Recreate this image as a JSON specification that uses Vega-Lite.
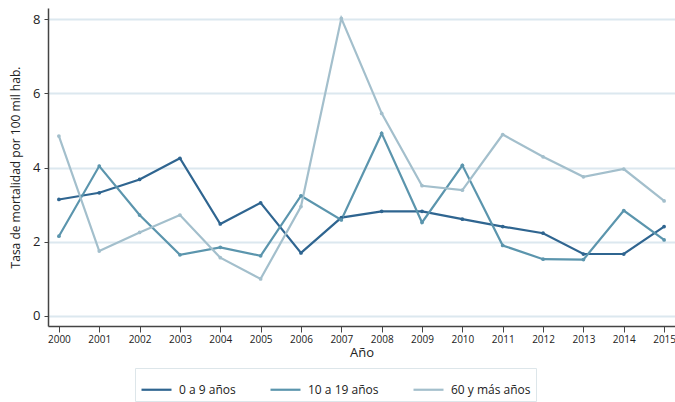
{
  "$schema": "https://vega.github.io/schema/vega-lite/v6.json",
  "width": 627,
  "height": 318,
  "autosize": "none",
  "padding": {"left": 48, "top": 8, "right": 0, "bottom": 76},
  "background": "white",
  "config": {
    "font": "Open Sans",
    "view": {"stroke": null}
  },
  "data": {
    "values": [
      {"year": 2000, "grupo": "0 a 9 años", "tasa": 3.14},
      {"year": 2001, "grupo": "0 a 9 años", "tasa": 3.32},
      {"year": 2002, "grupo": "0 a 9 años", "tasa": 3.68},
      {"year": 2003, "grupo": "0 a 9 años", "tasa": 4.25},
      {"year": 2004, "grupo": "0 a 9 años", "tasa": 2.48},
      {"year": 2005, "grupo": "0 a 9 años", "tasa": 3.05},
      {"year": 2006, "grupo": "0 a 9 años", "tasa": 1.7},
      {"year": 2007, "grupo": "0 a 9 años", "tasa": 2.65},
      {"year": 2008, "grupo": "0 a 9 años", "tasa": 2.82},
      {"year": 2009, "grupo": "0 a 9 años", "tasa": 2.82},
      {"year": 2010, "grupo": "0 a 9 años", "tasa": 2.61},
      {"year": 2011, "grupo": "0 a 9 años", "tasa": 2.41},
      {"year": 2012, "grupo": "0 a 9 años", "tasa": 2.23},
      {"year": 2013, "grupo": "0 a 9 años", "tasa": 1.67},
      {"year": 2014, "grupo": "0 a 9 años", "tasa": 1.67},
      {"year": 2015, "grupo": "0 a 9 años", "tasa": 2.41},
      {"year": 2000, "grupo": "10 a 19 años", "tasa": 2.15},
      {"year": 2001, "grupo": "10 a 19 años", "tasa": 4.04},
      {"year": 2002, "grupo": "10 a 19 años", "tasa": 2.72},
      {"year": 2003, "grupo": "10 a 19 años", "tasa": 1.65},
      {"year": 2004, "grupo": "10 a 19 años", "tasa": 1.85},
      {"year": 2005, "grupo": "10 a 19 años", "tasa": 1.62},
      {"year": 2006, "grupo": "10 a 19 años", "tasa": 3.24},
      {"year": 2007, "grupo": "10 a 19 años", "tasa": 2.59},
      {"year": 2008, "grupo": "10 a 19 años", "tasa": 4.92},
      {"year": 2009, "grupo": "10 a 19 años", "tasa": 2.52},
      {"year": 2010, "grupo": "10 a 19 años", "tasa": 4.06},
      {"year": 2011, "grupo": "10 a 19 años", "tasa": 1.9},
      {"year": 2012, "grupo": "10 a 19 años", "tasa": 1.53},
      {"year": 2013, "grupo": "10 a 19 años", "tasa": 1.52},
      {"year": 2014, "grupo": "10 a 19 años", "tasa": 2.84},
      {"year": 2015, "grupo": "10 a 19 años", "tasa": 2.05},
      {"year": 2000, "grupo": "60 y más años", "tasa": 4.85},
      {"year": 2001, "grupo": "60 y más años", "tasa": 1.75},
      {"year": 2002, "grupo": "60 y más años", "tasa": 2.25},
      {"year": 2003, "grupo": "60 y más años", "tasa": 2.72},
      {"year": 2004, "grupo": "60 y más años", "tasa": 1.57},
      {"year": 2005, "grupo": "60 y más años", "tasa": 1.0},
      {"year": 2006, "grupo": "60 y más años", "tasa": 2.95},
      {"year": 2007, "grupo": "60 y más años", "tasa": 8.02},
      {"year": 2008, "grupo": "60 y más años", "tasa": 5.46},
      {"year": 2009, "grupo": "60 y más años", "tasa": 3.51},
      {"year": 2010, "grupo": "60 y más años", "tasa": 3.39},
      {"year": 2011, "grupo": "60 y más años", "tasa": 4.89},
      {"year": 2012, "grupo": "60 y más años", "tasa": 4.29},
      {"year": 2013, "grupo": "60 y más años", "tasa": 3.75},
      {"year": 2014, "grupo": "60 y más años", "tasa": 3.96},
      {"year": 2015, "grupo": "60 y más años", "tasa": 3.1}
    ]
  },
  "mark": {"type": "line", "strokeWidth": 2.2, "point": {"size": 14, "filled": true}},
  "encoding": {
    "x": {
      "field": "year",
      "type": "quantitative",
      "scale": {"domain": [1999.73, 2015.27], "nice": false, "zero": false},
      "axis": {
        "title": "Año",
        "titleFontSize": 13,
        "titleFontWeight": "normal",
        "titleColor": "#222",
        "titlePadding": 2,
        "values": [2000, 2001, 2002, 2003, 2004, 2005, 2006, 2007, 2008, 2009, 2010, 2011, 2012, 2013, 2014, 2015],
        "format": "d",
        "labelFontSize": 10,
        "labelColor": "#222",
        "grid": false,
        "domainColor": "#444",
        "domainWidth": 1.5,
        "tickColor": "#444",
        "tickSize": 6,
        "labelPadding": 2
      }
    },
    "y": {
      "field": "tasa",
      "type": "quantitative",
      "scale": {"domain": [-0.27, 8.3], "nice": false, "zero": false},
      "axis": {
        "title": "Tasa de mortalidad por 100 mil hab.",
        "titleFontSize": 12,
        "titleFontWeight": "normal",
        "titleColor": "#222",
        "titlePadding": 10,
        "values": [0, 2, 4, 6, 8],
        "labelFontSize": 13,
        "labelColor": "#222",
        "grid": true,
        "gridColor": "#dce8ef",
        "gridWidth": 2,
        "domainColor": "#444",
        "domainWidth": 1.5,
        "tickColor": "#444",
        "tickSize": 4,
        "labelPadding": 4
      }
    },
    "color": {
      "field": "grupo",
      "type": "nominal",
      "scale": {
        "domain": ["0 a 9 años", "10 a 19 años", "60 y más años"],
        "range": ["#2f6590", "#5b95ad", "#a3bfcc"]
      },
      "legend": {
        "title": null,
        "orient": "none",
        "legendX": 87,
        "legendY": 360,
        "direction": "horizontal",
        "columns": 3,
        "symbolType": "stroke",
        "symbolSize": 900,
        "symbolStrokeWidth": 2.2,
        "labelFontSize": 12,
        "labelColor": "#222",
        "labelOffset": 6,
        "columnPadding": 30,
        "padding": 5,
        "strokeColor": "#dde6ea",
        "fillColor": "white"
      }
    }
  }
}
